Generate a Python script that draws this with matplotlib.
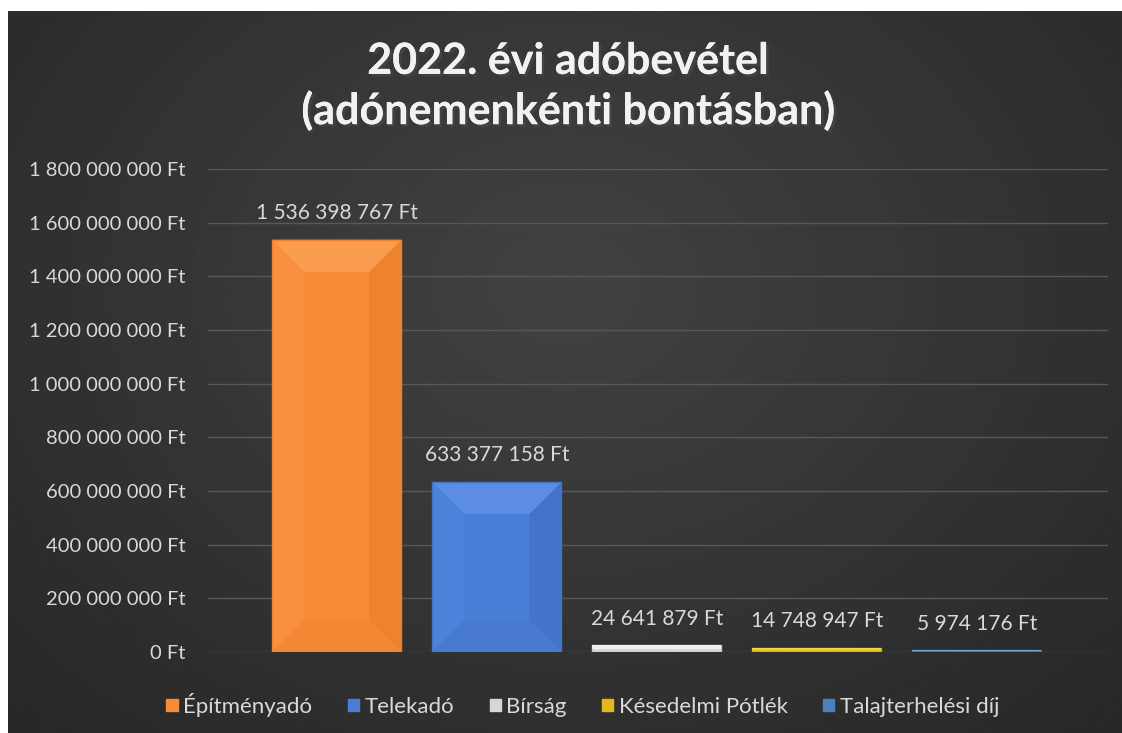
import numpy as np
import matplotlib.pyplot as plt
from matplotlib.patches import Polygon
import matplotlib.patheffects as pe

# data
categories = ['Építményadó', 'Telekadó', 'Bírság', 'Késedelmi Pótlék', 'Talajterhelési díj']
values = [1536398767, 633377158, 24641879, 14748947, 5974176]
colors = ['#F78C38', '#4A7ED6', '#D6D6D6', '#E3B91C', '#4A80BC']
light = ['#FA9C4E', '#5B8DE4', '#F0F0F0', '#F5D444', '#6FA3D6']
side_l = ['#F8903F', '#4D82DA', '#DDDDDD', '#E8C02A', '#5088C4']
side_r = ['#EE822F', '#4473CA', '#C4C4C4', '#D2AA14', '#4074AE']
bottom = ['#F28833', '#477AD0', '#CCCCCC', '#D8B018', '#4478B4']
yticks = np.arange(0, 1800000001, 200000000)

def ft(v):
    return '{:,}'.format(int(v)).replace(',', ' ') + ' Ft'

plt.rcParams['font.family'] = ['Lato', 'DejaVu Sans']
txt = '#D9D9D9'

fig = plt.figure(figsize=(11.22, 7.33), dpi=100, facecolor='white')

# dark background with soft radial gradient
bg = fig.add_axes([8 / 1122, 0, 1 - 8 / 1122, 722 / 733])
yy, xx = np.mgrid[0:1:300j, 0:1:450j]
r = np.sqrt(((xx - 0.5) / 0.75) ** 2 + ((yy - 0.62) / 0.9) ** 2)
g = np.clip(1 - r, 0, 1)
bg.imshow(0.15 + 0.11 * g, cmap='gray', vmin=0, vmax=1, aspect='auto',
          extent=[0, 1, 0, 1], origin='lower', interpolation='bilinear')
bg.axis('off')

ax = fig.add_axes([208 / 1122, 81 / 733, 900 / 1122, 483 / 733])
ax.set_facecolor('none')
x = np.arange(len(values))
w = 0.806
ax.set_xlim(-0.806, 4.82)
ax.set_ylim(0, 1800000000)

ax.set_yticks(yticks)
ax.set_yticklabels([ft(v) for v in yticks], color=txt, fontsize=14.5)
ax.yaxis.grid(True, color='#585858', lw=1)
ax.set_axisbelow(True)
ax.tick_params(length=0, pad=16)
ax.set_xticks([])
for s in ax.spines.values():
    s.set_visible(False)

bars = ax.bar(x, values, width=w, color=colors, zorder=3)

# bevel faces, computed from each bar's geometry
upp_x = 1 / 160.0
upp_y = 1800000000 / 483.0
d = 32
for b, c, lc, sl, sr, bc in zip(bars, colors, light, side_l, side_r, bottom):
    x0, x1 = b.get_x(), b.get_x() + b.get_width()
    y0, y1 = 0, b.get_height()
    if (y1 - y0) / upp_y < 20:
        b.set_edgecolor(sr)
        b.set_linewidth(1)
        ax.add_patch(Polygon([[x0, y1], [x1, y1], [x1, y1 - (y1 - y0) * 0.5],
                              [x0, y1 - (y1 - y0) * 0.5]], color=lc, zorder=4, lw=0))
        continue
    dx = d * upp_x
    dy = d * upp_y
    faces = [
        ([[x0, y0], [x0 + dx, y0 + dy], [x0 + dx, y1 - dy], [x0, y1]], sl),
        ([[x1, y0], [x1, y1], [x1 - dx, y1 - dy], [x1 - dx, y0 + dy]], sr),
        ([[x0, y0], [x1, y0], [x1 - dx, y0 + dy], [x0 + dx, y0 + dy]], bc),
        ([[x0, y1], [x1, y1], [x1 - dx, y1 - dy], [x0 + dx, y1 - dy]], lc),
    ]
    for pts, fc in faces:
        ax.add_patch(Polygon(pts, color=fc, zorder=4, lw=0))
    ax.add_patch(Polygon([[x0 + dx, y0 + dy], [x1 - dx, y0 + dy],
                          [x1 - dx, y1 - dy], [x0 + dx, y1 - dy]], color=c, zorder=5, lw=0))
    ax.add_patch(Polygon([[x0, y0], [x1, y0], [x1, y1], [x0, y1]], fill=False,
                         ec=sr, lw=1, zorder=6))

for xi, v in zip(x, values):
    ax.annotate(ft(v), (xi, v), xytext=(0, 12), textcoords='offset points',
                ha='center', va='bottom', color=txt, fontsize=15)

# legend
handles = [plt.Rectangle((0, 0), 1, 1, color=c) for c in colors]
leg = fig.legend(handles, categories, loc='center', bbox_to_anchor=(583 / 1122, 1 - 705 / 733),
                 ncol=5, frameon=False, fontsize=16, handlelength=0.5, handleheight=0.5,
                 handletextpad=0.25, columnspacing=1.6)
for t in leg.get_texts():
    t.set_color(txt)

fig.text(568 / 1122, 1 - 86 / 733, '2022. évi adóbevétel\n(adónemenkénti bontásban)',
         ha='center', va='center', color='#F2F2F2', fontsize=31, fontweight='bold',
         linespacing=1.25,
         path_effects=[pe.withSimplePatchShadow(offset=(2, -2), alpha=0.6), pe.Normal()])

fig.savefig('out.png', dpi=100, facecolor='white')
